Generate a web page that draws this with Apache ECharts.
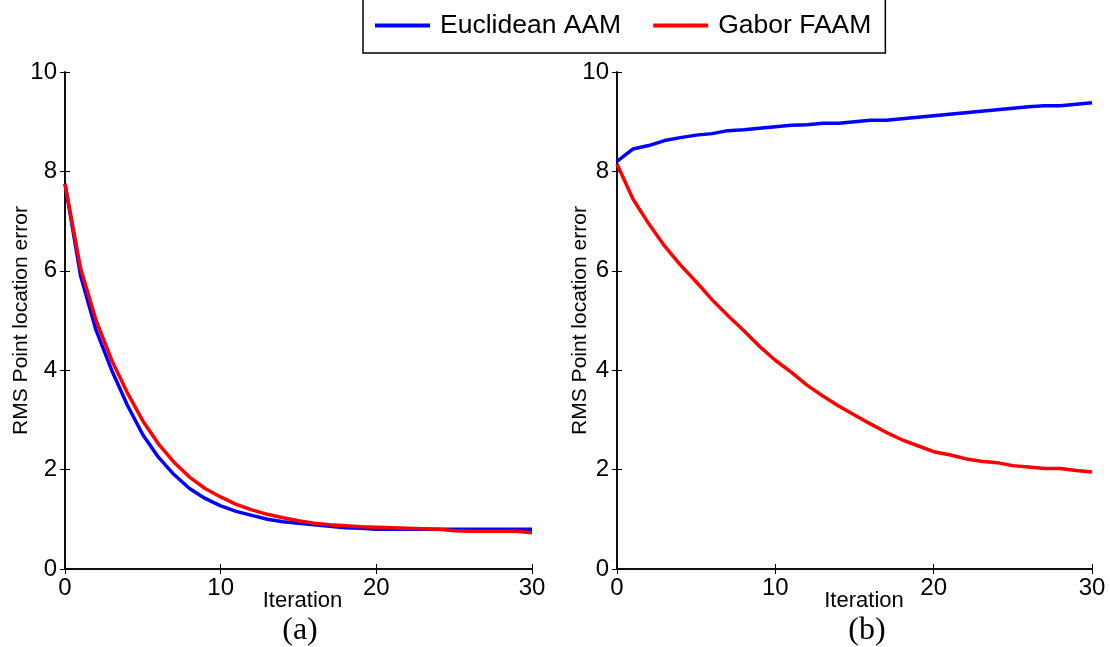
<!DOCTYPE html>
<html>
<head>
<meta charset="utf-8">
<script src="https://cdn.jsdelivr.net/npm/echarts@6/dist/echarts.min.js"></script>
<style>
  html, body { margin: 0; padding: 0; background: #fff; }
  #chart { width: 1110px; height: 647px; }
</style>
</head>
<body>
<div id="chart"></div>
<script>
var chart = echarts.init(document.getElementById('chart'));

// data
var iterations = [];
for (var i = 0; i <= 30; i++) iterations.push(i);
var seriesNames = ['Euclidean AAM', 'Gabor FAAM'];
var panelLabels = ['(a)', '(b)'];

// panel (a)
var euclidA = [7.75, 5.9, 4.8, 4.0, 3.3, 2.7, 2.25, 1.9, 1.62, 1.42, 1.27, 1.16, 1.08, 1.0, 0.95, 0.92,
  0.89, 0.86, 0.83, 0.82, 0.8, 0.8, 0.8, 0.8, 0.8, 0.8, 0.8, 0.8, 0.8, 0.8, 0.8];
var gaborA = [7.75, 6.05, 5.0, 4.2, 3.55, 2.98, 2.52, 2.15, 1.85, 1.62, 1.45, 1.3, 1.19, 1.1, 1.03, 0.97,
  0.92, 0.89, 0.87, 0.85, 0.84, 0.83, 0.82, 0.81, 0.8, 0.77, 0.76, 0.76, 0.76, 0.76, 0.73];

// panel (b)
var euclidB = [8.2, 8.45, 8.52, 8.62, 8.68, 8.73, 8.76, 8.82, 8.84, 8.87, 8.9, 8.93, 8.94, 8.97, 8.97, 9.0,
  9.03, 9.03, 9.06, 9.09, 9.12, 9.15, 9.18, 9.21, 9.24, 9.27, 9.3, 9.32, 9.32, 9.35, 9.38];
var gaborB = [8.15, 7.45, 6.95, 6.5, 6.12, 5.78, 5.42, 5.1, 4.8, 4.48, 4.2, 3.96, 3.7, 3.48, 3.28, 3.1,
  2.92, 2.75, 2.6, 2.48, 2.36, 2.3, 2.22, 2.17, 2.14, 2.08, 2.05, 2.02, 2.02, 1.98, 1.95];

function pairs(ys) {
  return ys.map(function (y, i) { return [iterations[i], y]; });
}

var font = 'Liberation Sans, Arial, sans-serif';
var serif = 'Liberation Serif, Times New Roman, serif';
var grids = [
  { left: 65, top: 72, width: 467, height: 497, outerBoundsMode: 'none' },
  { left: 617, top: 72, width: 475, height: 497, outerBoundsMode: 'none' }
];
var namePad = [[0, 0, 0, 8], [0, 0, 0, 19]];
var yNameGap = [33, 26];

var xAxes = [], yAxes = [];
grids.forEach(function (g, k) {
  xAxes.push({
    type: 'value', gridIndex: k, min: 0, max: 30, interval: 10,
    name: 'Iteration', nameLocation: 'middle', nameGap: 21, nameMoveOverlap: false,
    nameTextStyle: { fontFamily: font, fontSize: 22, color: '#000', padding: namePad[k] },
    axisLine: { lineStyle: { color: '#000', width: 1.5 } },
    axisTick: { inside: true, length: 5, lineStyle: { color: '#000' } },
    axisLabel: { fontFamily: font, fontSize: 24, color: '#000', margin: 7 },
    splitLine: { show: false }
  });
  xAxes.push({
    type: 'value', gridIndex: k, min: 0, max: 30, interval: 10, position: 'top',
    axisLine: { lineStyle: { color: '#000', width: 1.5 } },
    axisTick: { inside: true, length: 5, lineStyle: { color: '#000' } },
    axisLabel: { show: false }, splitLine: { show: false }
  });
  yAxes.push({
    type: 'value', gridIndex: k, min: 0, max: 10, interval: 2,
    name: 'RMS Point location error', nameLocation: 'middle', nameGap: yNameGap[k], nameMoveOverlap: false,
    nameTextStyle: { fontFamily: font, fontSize: 21, color: '#000' },
    axisLine: { show: true, lineStyle: { color: '#000', width: 1.5 } },
    axisTick: { show: true, inside: true, length: 5, lineStyle: { color: '#000' } },
    axisLabel: { fontFamily: font, fontSize: 24, color: '#000', margin: 8 },
    splitLine: { show: false }
  });
  yAxes.push({
    type: 'value', gridIndex: k, min: 0, max: 10, interval: 2, position: 'right',
    axisLine: { show: true, lineStyle: { color: '#000', width: 1.5 } },
    axisTick: { show: true, inside: true, length: 5, lineStyle: { color: '#000' } },
    axisLabel: { show: false }, splitLine: { show: false }
  });
});

function line(name, data, color, k) {
  return {
    name: name, type: 'line', xAxisIndex: k * 2, yAxisIndex: k * 2,
    data: pairs(data), showSymbol: false, symbol: 'none', animation: false,
    lineStyle: { color: color, width: 3.5 }, itemStyle: { color: color }
  };
}

var option = {
  backgroundColor: '#fff',
  animation: false,
  title: [
    { text: panelLabels[0], left: 295, top: 610, textAlign: 'center',
      textStyle: { fontFamily: serif, fontSize: 32, fontWeight: 'normal', color: '#000' } },
    { text: panelLabels[1], left: 862, top: 610, textAlign: 'center',
      textStyle: { fontFamily: serif, fontSize: 32, fontWeight: 'normal', color: '#000' } }
  ],
  legend: {
    data: seriesNames, left: 363, top: -6, icon: 'rect',
    itemWidth: 55, itemHeight: 4, itemGap: 32,
    borderColor: '#000', borderWidth: 1.5,
    padding: [18, 14, 14, 12],
    textStyle: { fontFamily: font, fontSize: 26.5, color: '#000', padding: [0, 0, 0, 5] }
  },
  grid: grids,
  xAxis: xAxes,
  yAxis: yAxes,
  series: [
    line(seriesNames[0], euclidA, '#0000ff', 0),
    line(seriesNames[1], gaborA, '#ff0000', 0),
    line(seriesNames[0], euclidB, '#0000ff', 1),
    line(seriesNames[1], gaborB, '#ff0000', 1)
  ]
};
chart.setOption(option);
</script>
</body>
</html>
